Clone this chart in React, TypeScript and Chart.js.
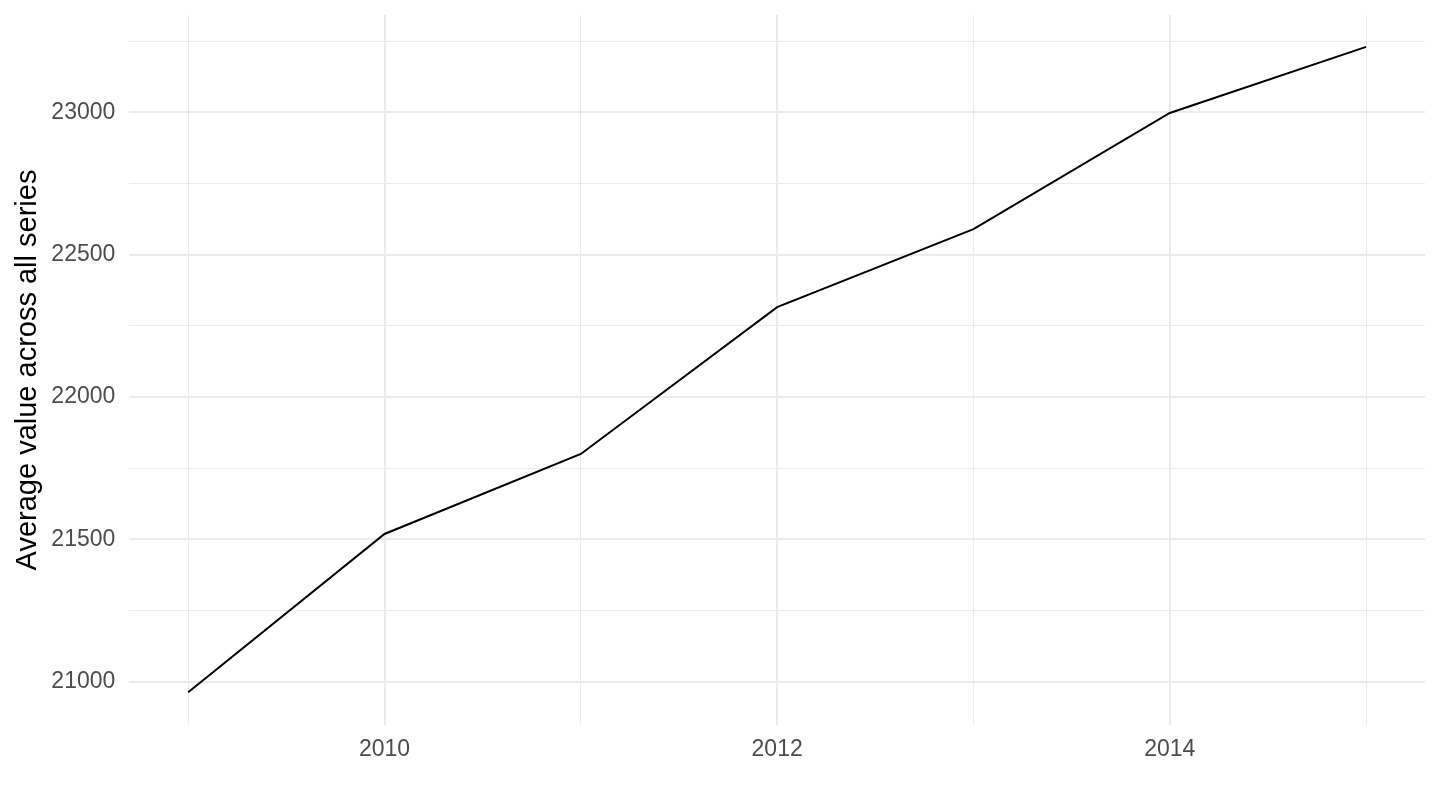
import React, { useEffect, useRef } from "react";
import { Chart, registerables } from "chart.js";

Chart.register(...registerables);

const years = [2009, 2010, 2011, 2012, 2013, 2014, 2015];
const averageValues = [20963, 21519, 21800, 22316, 22590, 22998, 23230];
const xTickValues = [2009, 2010, 2011, 2012, 2013, 2014, 2015];
const xLabelledYears = [2010, 2012, 2014];
const yTickValues = [21000, 21250, 21500, 21750, 22000, 22250, 22500, 22750, 23000, 23250];
const yLabelledValues = [21000, 21500, 22000, 22500, 23000];
const yTitle = "Average value across all series";

const FONT = "'Liberation Sans', Arial, Helvetica, sans-serif";
const GRID = "#EBEBEB";

export default function App() {
  const ref = useRef<HTMLCanvasElement | null>(null);

  useEffect(() => {
    document.body.style.margin = "0";
    const canvas = ref.current;
    if (!canvas) return;
    const chart = new Chart(canvas, {
      type: "line",
      data: {
        datasets: [
          {
            data: years.map((y, i) => ({ x: y, y: averageValues[i] })),
            borderColor: "#000000",
            borderWidth: 2,
            pointRadius: 0,
            tension: 0,
            fill: false,
          },
        ],
      },
      options: {
        responsive: false,
        animation: false,
        devicePixelRatio: 1,
        layout: { padding: { left: 0, top: 15, right: 15, bottom: 0 } },
        plugins: { legend: { display: false }, tooltip: { enabled: false } },
        scales: {
          x: {
            type: "linear",
            min: 2008.7,
            max: 2015.3,
            afterBuildTicks: (scale: any) => {
              scale.ticks = xTickValues.map((v) => ({ value: v }));
            },
            afterFit: (scale: any) => {
              scale.height = 85;
              scale.paddingLeft = 0;
              scale.paddingRight = 0;
            },
            border: { display: false },
            grid: {
              color: GRID,
              drawTicks: false,
              lineWidth: (ctx: any) =>
                ctx.tick && xLabelledYears.includes(ctx.tick.value) ? 2 : 1,
            },
            ticks: {
              autoSkip: false,
              maxRotation: 0,
              padding: 11,
              color: "#4D4D4D",
              font: { family: FONT, size: 23 },
              callback: (v: any) => (xLabelledYears.includes(Number(v)) ? String(v) : ""),
            },
          },
          y: {
            type: "linear",
            min: 20848,
            max: 23342,
            afterBuildTicks: (scale: any) => {
              scale.ticks = yTickValues.map((v) => ({ value: v }));
            },
            afterFit: (scale: any) => {
              scale.width = 129.3;
              scale.paddingTop = 0;
              scale.paddingBottom = 0;
            },
            border: { display: false },
            grid: {
              color: GRID,
              drawTicks: false,
              lineWidth: (ctx: any) =>
                ctx.tick && yLabelledValues.includes(ctx.tick.value) ? 2 : 1,
            },
            ticks: {
              autoSkip: false,
              padding: 14,
              color: "#4D4D4D",
              font: { family: FONT, size: 23 },
              callback: (v: any) => (yLabelledValues.includes(Number(v)) ? String(v) : ""),
            },
            title: {
              display: true,
              text: yTitle,
              color: "#000000",
              font: { family: FONT, size: 29 },
              padding: { top: 11, bottom: 0 },
            },
          },
        },
      },
    });
    return () => chart.destroy();
  }, []);

  return (
    <div style={{ position: "fixed", left: 0, top: 0, width: 1440, height: 810, background: "#fff" }}>
      <canvas ref={ref} width={1440} height={810} style={{ width: 1440, height: 810, display: "block" }} />
    </div>
  );
}
